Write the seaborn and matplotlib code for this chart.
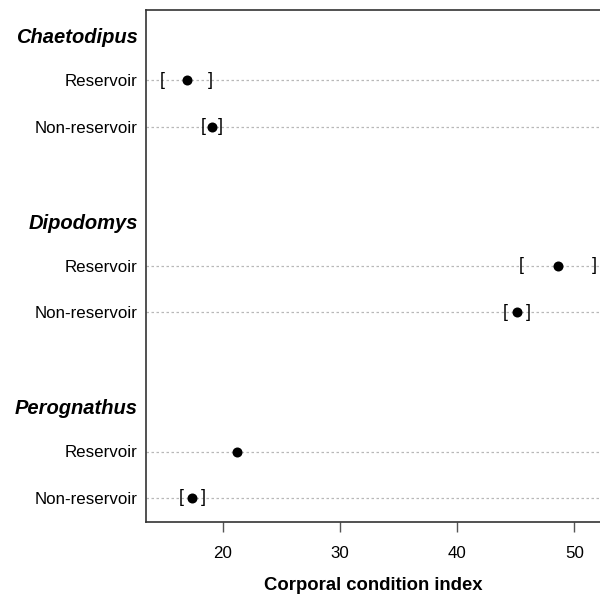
import numpy as np
import pandas as pd
import matplotlib
matplotlib.use("Agg")
import matplotlib.pyplot as plt
import matplotlib.transforms as mtransforms
import seaborn as sns

# ---- data ----
species = ["Chaetodipus", "Dipodomys", "Perognathus"]
groups = ["Reservoir", "Non-reservoir"]
means = [16.9, 19.05, 48.6, 45.15, 21.2, 17.35]
lower = [14.8, 18.3, 45.45, 44.1, np.nan, 16.45]
upper = [18.9, 19.8, 51.7, 46.1, np.nan, 18.3]
xticks = [20, 30, 40, 50]
xlabel = "Corporal condition index"

sns.set_style("white")
plt.rcParams["font.family"] = ["Liberation Sans", "DejaVu Sans"]
plt.rcParams["text.color"] = "black"
plt.rcParams["axes.labelcolor"] = "black"
plt.rcParams["xtick.labelcolor"] = "black"

# row positions (dotchart layout: header row, two rows, blank gap)
rows = []
header_pos = []
pos = 11
for sp in species:
    header_pos.append(pos)
    for g in groups:
        pos -= 1
        rows.append((sp, g, pos))
    pos -= 2

df = pd.DataFrame({
    "species": [r[0] for r in rows],
    "group": [r[1] for r in rows],
    "y": [r[2] for r in rows],
    "mean": means,
    "lower": lower,
    "upper": upper,
})

fig = plt.figure(figsize=(6.0, 5.98), dpi=100)
ax = fig.add_axes([146 / 600, 76 / 598, 454 / 600, 512 / 598])

# dotted guide lines
for y in df["y"]:
    ax.axhline(y, color="#b8b8b8", linestyle=(0, (2, 2)), linewidth=0.9, zorder=1)

sns.scatterplot(data=df, x="mean", y="y", color="black", s=52,
                edgecolor="black", linewidth=0, ax=ax, zorder=3, legend=False)

# brackets for intervals
for _, r in df.iterrows():
    if not np.isnan(r["lower"]):
        ax.text(r["lower"], r["y"], "[", ha="center", va="center",
                fontsize=13, color="black", zorder=3)
    if not np.isnan(r["upper"]):
        ax.text(r["upper"], r["y"], "]", ha="center", va="center",
                fontsize=13, color="black", zorder=3)

ax.set_xlim(13.44, 52.2)
ax.set_ylim(0.48, 11.52)

trans = mtransforms.blended_transform_factory(ax.transAxes, ax.transData)
for _, r in df.iterrows():
    ax.text(-9 / 454, r["y"] - 0.03, r["group"], transform=trans, ha="right",
            va="center", fontsize=12.2, color="black")
for sp, hp in zip(species, header_pos):
    ax.text(-8 / 454, hp - 0.08, sp, transform=trans, ha="right", va="center",
            fontsize=14.5, fontweight="bold", fontstyle="italic", color="black")

ax.set_yticks([])
ax.set_ylabel("")
ax.set_xticks(xticks)
ax.set_xticklabels([str(t) for t in xticks], fontsize=12.2)
ax.tick_params(axis="x", bottom=True, length=7, width=1, color="#555555",
               pad=10, labelcolor="black")
ax.set_xlabel(xlabel, fontsize=13.3, fontweight="bold", labelpad=12, color="black")

for side in ["left", "top", "bottom"]:
    ax.spines[side].set_color("#333333")
    ax.spines[side].set_linewidth(1.2)
ax.spines["right"].set_visible(False)

fig.savefig("out.png", dpi=100, facecolor="white")
